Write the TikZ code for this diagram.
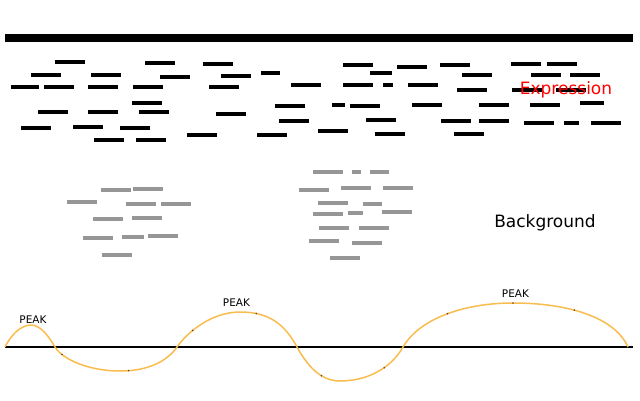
\documentclass[tikz,border=0pt]{standalone}
\usepackage{fontspec}
\setmainfont{DejaVu Sans}
\definecolor{dashgrey}{HTML}{969696}
\definecolor{curveorange}{HTML}{F9BC4E}
\definecolor{spotbrown}{HTML}{6B4420}
\begin{document}
\begin{tikzpicture}[
		x=1pt, y=-1pt,
		blackdash/.style={fill=black},
		greydash/.style={fill=dashgrey},
		bigtext/.style={font=\fontsize{17}{20}\selectfont, anchor=base, inner sep=0pt},
		peaktext/.style={font=\fontsize{10.5}{12}\selectfont, anchor=base, inner sep=0pt},
		signal/.style={curveorange, line width=1.5pt},
		spot/.style={fill=spotbrown}
	]
	\useasboundingbox (0,0) rectangle (640,400);
	% Barra
	\fill (5,34) rectangle (633,42);
	% Letture espresse
	\foreach \x/\y/\w in {55/60/30, 145/61/30, 203/62/30, 31/73/30, 91/73/30, 160/75/30, 221/74/30, 261/71/19,
		11/85/28, 44/85/30, 88/85/30, 133/85/30, 209/85/30, 291/83/30, 132/101/30, 38/110/30, 88/110/30,
		139/110/30, 216/112/30, 275/104/30, 21/126/30, 73/125/30, 120/126/30, 279/119/30, 187/133/30,
		257/133/30, 94/138/30, 136/138/30, 318/129/30,
		343/63/30, 397/65/30, 440/63/30, 511/62/30, 547/62/30, 370/71/22, 462/73/30, 531/73/30, 570/73/30,
		343/83/30, 383/83/10, 408/83/30, 457/88/30, 512/88/30, 556/88/30, 332/103/13, 350/104/30,
		412/103/30, 479/103/30, 530/103/30, 580/101/24, 366/118/30, 441/119/30, 479/119/30, 524/121/30,
		564/121/15, 591/121/30, 375/132/30, 454/132/30}
		\fill[blackdash] (\x,\y) rectangle ++(\w,4);
	% Letture di fondo
	\foreach \x/\y/\w in {101/188/30, 133/187/30, 67/200/30, 126/202/30, 161/202/30, 93/217/30, 132/216/30,
		83/236/30, 122/235/22, 148/234/30, 102/253/30,
		313/170/30, 352/170/9, 370/170/19, 299/188/30, 341/186/30, 383/186/30, 318/201/30, 363/202/19,
		313/212/30, 348/211/15, 382/210/30, 319/226/30, 359/226/30, 309/239/30, 352/241/30, 330/256/30}
		\fill[greydash] (\x,\y) rectangle ++(\w,4);
	% Testi
	\node[bigtext, red] (expression) at (566,94) {Expression};
	\node[bigtext] (background) at (545,227) {Background};
	\node[peaktext] (peakleft) at (33,323) {PEAK};
	\node[peaktext] (peakmid) at (236.5,306) {PEAK};
	\node[peaktext] (peakright) at (515.5,297) {PEAK};
	% Segnale
	\draw[line width=2pt] (5,347) -- (633,347);
	\draw[signal] (5,347) .. controls (12,333) and (22,325) .. (31,325)
		.. controls (41,325) and (49,337) .. (55,347)
		.. controls (63,360) and (90,371) .. coordinate[pos=0.2] (spot1) (120,371)
		.. controls (150,371) and (168,360) .. coordinate[pos=0.1] (spot2) (177,347)
		.. controls (186,334) and (210,312) .. coordinate[pos=0.37] (spot3) (240,312)
		.. controls (270,312) and (285,325) .. coordinate[pos=0.2] (spot4) (297,347)
		.. controls (307,365) and (320,381) .. coordinate[pos=0.65] (spot5) (340,381)
		.. controls (365,381) and (390,370) .. coordinate[pos=0.63] (spot6) (403,347)
		.. controls (420,318) and (465,303) .. coordinate[pos=0.51] (spot7) coordinate[pos=1] (spot8) (513,303)
		.. controls (570,303) and (615,318) .. coordinate[pos=0.4] (spot9) (628,347);
	\foreach \i in {1,...,9}
		\fill[spot] (spot\i) circle (0.9pt);
\end{tikzpicture}
\end{document}
